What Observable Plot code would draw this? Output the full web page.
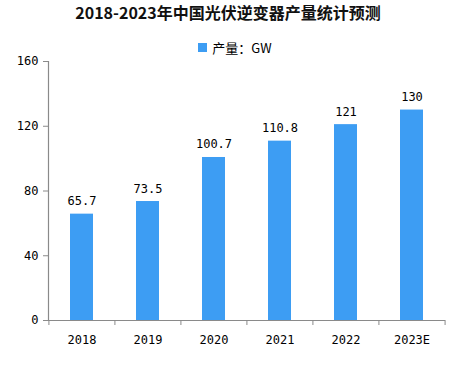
<!DOCTYPE html>
<html>
<head>
<meta charset="utf-8">
<script src="https://cdn.jsdelivr.net/npm/d3@7"></script>
<script src="https://cdn.jsdelivr.net/npm/@observablehq/plot@0.6"></script>
<style>
  html, body { margin: 0; padding: 0; background: #fff; }
  #wrap { position: relative; width: 468px; height: 373px; overflow: hidden; }
  #title { position: absolute; top: 0; left: 0; width: 456px; height: 28px; line-height: 28px;
    text-align: center; font: bold 16px "Noto Sans CJK SC", sans-serif; color: #111; }
  #legend { position: absolute; top: 38px; left: 2px; width: 466px; height: 18px;
    display: flex; justify-content: center; align-items: center;
    font: 13px "Noto Sans CJK SC", sans-serif; color: #000; }
  #legend .sw { width: 9px; height: 9px; background: #3d9df3; margin-right: 5px; }
  #chart { position: absolute; top: 54px; left: 0; }
</style>
</head>
<body>
<div id="wrap">
  <div id="title"></div>
  <div id="legend"><span class="sw"></span><span id="legtext"></span></div>
  <div id="chart"></div>
</div>
<script>
const titleText = "2018-2023年中国光伏逆变器产量统计预测";
const seriesName = "产量：GW";
const categories = ["2018", "2019", "2020", "2021", "2022", "2023E"];
const values = [65.7, 73.5, 100.7, 110.8, 121, 130];
const yTicks = [0, 40, 80, 120, 160];

document.getElementById("title").textContent = titleText;
document.getElementById("legtext").textContent = seriesName;

const data = categories.map((c, i) => ({year: c, value: values[i]}));

const width = 468, height = 319;
const marginLeft = 48, marginRight = 23;
const step = (width - marginLeft - marginRight) / categories.length;
const axisColor = "#8a8a8a";
const barColor = "#3d9df3";

const chart = Plot.plot({
  width, height,
  marginTop: 7, marginBottom: 53, marginLeft, marginRight,
  style: {fontFamily: "'DejaVu Sans Mono', monospace", fontSize: "12px", color: "#000", background: "transparent"},
  x: {domain: categories, paddingInner: 0.65, paddingOuter: 0.325, label: null},
  y: {domain: [0, 160], ticks: yTicks, label: null},
  marks: [
    Plot.barY(data, {x: "year", y: "value", fill: barColor}),
    Plot.text(data, {x: "year", y: "value", text: d => String(d.value), dy: -9, lineAnchor: "bottom", fill: "#000"}),
    Plot.ruleY([0], {stroke: axisColor, strokeWidth: 1.2}),
    Plot.frame({anchor: "left", stroke: axisColor, strokeWidth: 1.2}),
    Plot.ruleX(categories, {x: d => d, y1: d => 0, y2: d => 0, insetBottom: -5, dx: -step / 2, stroke: axisColor}),
    Plot.ruleX(categories.slice(-1), {x: d => d, y1: d => 0, y2: d => 0, insetBottom: -5, dx: step / 2, stroke: axisColor}),
    Plot.axisY({ticks: yTicks, tickSize: 5, tickPadding: 5, stroke: axisColor, fill: "#000", label: null}),
    Plot.axisX({tickSize: 0, tickPadding: 15, fill: "#000", label: null})
  ]
});
document.getElementById("chart").appendChild(chart);
</script>
</body>
</html>
